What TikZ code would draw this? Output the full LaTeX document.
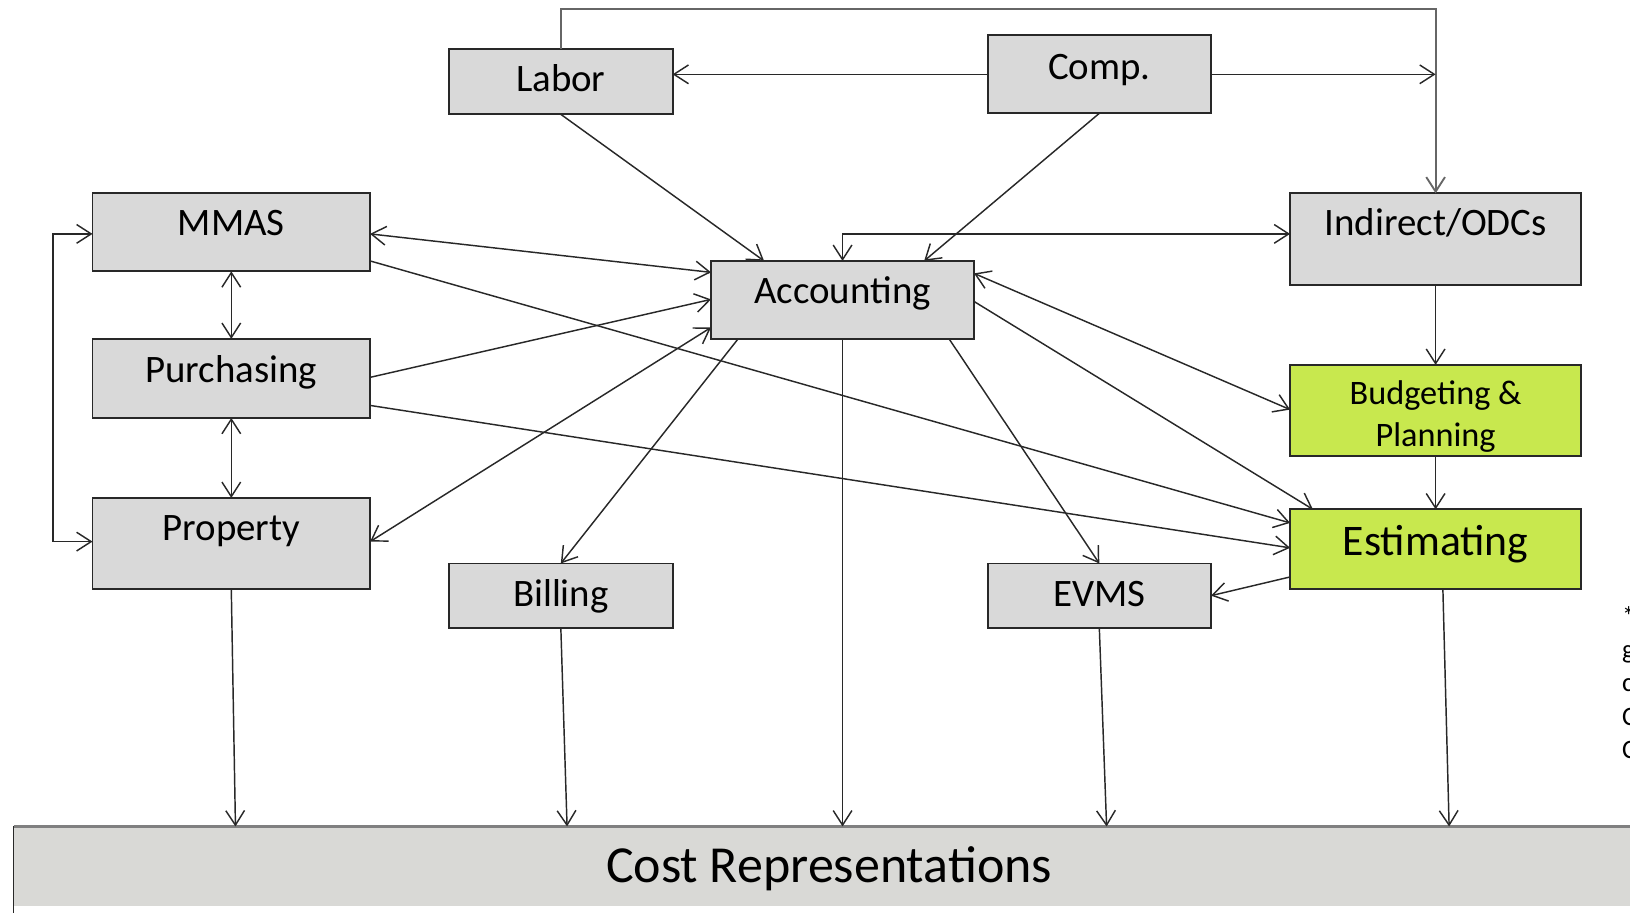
\documentclass[tikz,border=0pt]{standalone}
\usepackage{fontspec}
\setmainfont{Carlito}
\usetikzlibrary{arrows.meta,calc}
\definecolor{boxgray}{RGB}{217,217,217}
\definecolor{boxgreen}{RGB}{200,232,78}
\definecolor{bargray}{RGB}{217,217,214}
\definecolor{edge}{RGB}{40,40,40}
\begin{document}
\begin{tikzpicture}[x=0.5pt,y=-0.5pt,
  box/.style={draw=edge, line width=0.9pt, fill=boxgray, inner sep=0pt, outer sep=0pt, anchor=north west, font=\fontsize{18.7}{22}\selectfont},
  gbox/.style={box, fill=boxgreen},
  arr/.style={-{Straight Barb[length=7pt,width=9pt]}, line width=0.7pt, draw=edge},
  darr/.style={{Straight Barb[length=7pt,width=9pt]}-{Straight Barb[length=7pt,width=9pt]}, line width=0.7pt, draw=edge},
]
\useasboundingbox (0,0) rectangle (1568,878);
\clip (0,0) rectangle (1568,878);

% bottom bar
\node[anchor=north west, fill=bargray, inner sep=0pt, outer sep=0pt, minimum width=784.5pt, text height=27pt, text depth=11.5pt, font=\fontsize{25}{30}\selectfont] (cost) at (13,795) {Cost Representations};
\draw[black!50, line width=1.3pt] (cost.north west) -- (cost.north east);
\draw[edge, line width=0.6pt] (cost.north west) -- ++(0,83);

% boxes
\node[box, minimum width=107.5pt, text height=20.5pt, text depth=11pt] (labor) at (432,47) {Labor};
\node[box, minimum width=107.5pt, text height=21pt, text depth=16.5pt] (comp) at (950,34) {Comp.};
\node[box, minimum width=133.5pt, text height=20.5pt, text depth=17pt] (mmas) at (89,186) {MMAS};
\node[box, minimum width=133.5pt, text height=21pt, text depth=17pt] (purch) at (89,326) {Purchasing};
\node[box, minimum width=133.5pt, text height=20.5pt, text depth=23.5pt] (prop) at (89,479) {Property};
\node[box, minimum width=126.5pt, text height=20.5pt, text depth=17pt] (acc) at (684,251) {Accounting};
\node[box, minimum width=140pt, text height=20.5pt, text depth=23.5pt] (ind) at (1241,186) {Indirect/ODCs};
\node[gbox, minimum width=140pt, minimum height=44pt, align=center, font=\fontsize{16.5}{20}\selectfont] (bud) at (1241,351) {\rule{0pt}{17pt}Budgeting \&\\Planning};
\node[gbox, minimum width=140pt, text height=22pt, text depth=16.5pt, font=\fontsize{21}{25}\selectfont] (est) at (1241,490) {Estimating};
\node[box, minimum width=107.5pt, text height=20.5pt, text depth=10.5pt] (bill) at (432,542) {Billing};
\node[box, minimum width=107.5pt, text height=20.5pt, text depth=10.5pt] (evms) at (950,542) {EVMS};

% side note (cut off at the right edge, as in the reference)
\node[anchor=north west, align=left, inner sep=0pt, font=\fontsize{12.8}{16}\selectfont] (note) at (1560,583) {*\\g\\c\\C\\C};

% connectors
\draw[arr, draw=black!60, line width=0.9pt] (labor.north) -- ++(0,-38) -| (ind.north);
\draw[arr] (comp.east) -- (comp.east -| ind.north);
\draw[arr] (comp.west) -- (comp.west -| labor.east);
\draw[arr] (labor.south) -- ($(acc.north west)+(51,0)$);
\draw[arr] (comp.south) -- ($(acc.north west)+(205,0)$);
\draw[darr] (acc.north) |- ($(ind.north west)+(0,39)$);
\draw[darr] ($(mmas.north east)+(0,39)$) -- ($(acc.north west)+(0,11)$);
\draw[arr] ($(mmas.north east)+(0,65)$) -- ($(est.north west)+(0,13)$);
\draw[arr] ($(purch.north east)+(0,37)$) -- ($(acc.north west)+(0,37)$);
\draw[arr] ($(purch.north east)+(0,64)$) -- ($(est.north west)+(0,37)$);
\draw[darr] ($(prop.north east)+(0,42)$) -- ($(acc.north west)+(0,64)$);
\draw[arr] ($(acc.south west)+(26,0)$) -- (bill.north);
\draw[arr] (acc.south) -- (acc.south |- cost.north);
\draw[arr] ($(acc.south west)+(229,0)$) -- (evms.north);
\draw[darr] ($(acc.north east)+(0,12)$) -- ($(bud.north west)+(0,43)$);
\draw[arr] ($(acc.north east)+(0,39)$) -- ($(est.north west)+(22,0)$);
\draw[arr] (ind.south) -- (bud.north);
\draw[arr] (bud.south) -- (est.north);
\draw[arr] ($(est.north west)+(0,65)$) -- ($(evms.north east)+(0,31)$);
\draw[darr] (mmas.south) -- (purch.north);
\draw[darr] (purch.south) -- (prop.north);
\draw[darr] ($(mmas.north west)+(0,39)$) -- ++(-38,0) |- ($(prop.north west)+(0,42)$);
\draw[arr] (prop.south) -- ($(prop.south |- cost.north)+(4,0)$);
\draw[arr] (bill.south) -- ($(bill.south |- cost.north)+(6,0)$);
\draw[arr] (evms.south) -- ($(evms.south |- cost.north)+(7,0)$);
\draw[arr] ($(est.south)+(7,0)$) -- ($(est.south |- cost.north)+(13,0)$);
\end{tikzpicture}
\end{document}
